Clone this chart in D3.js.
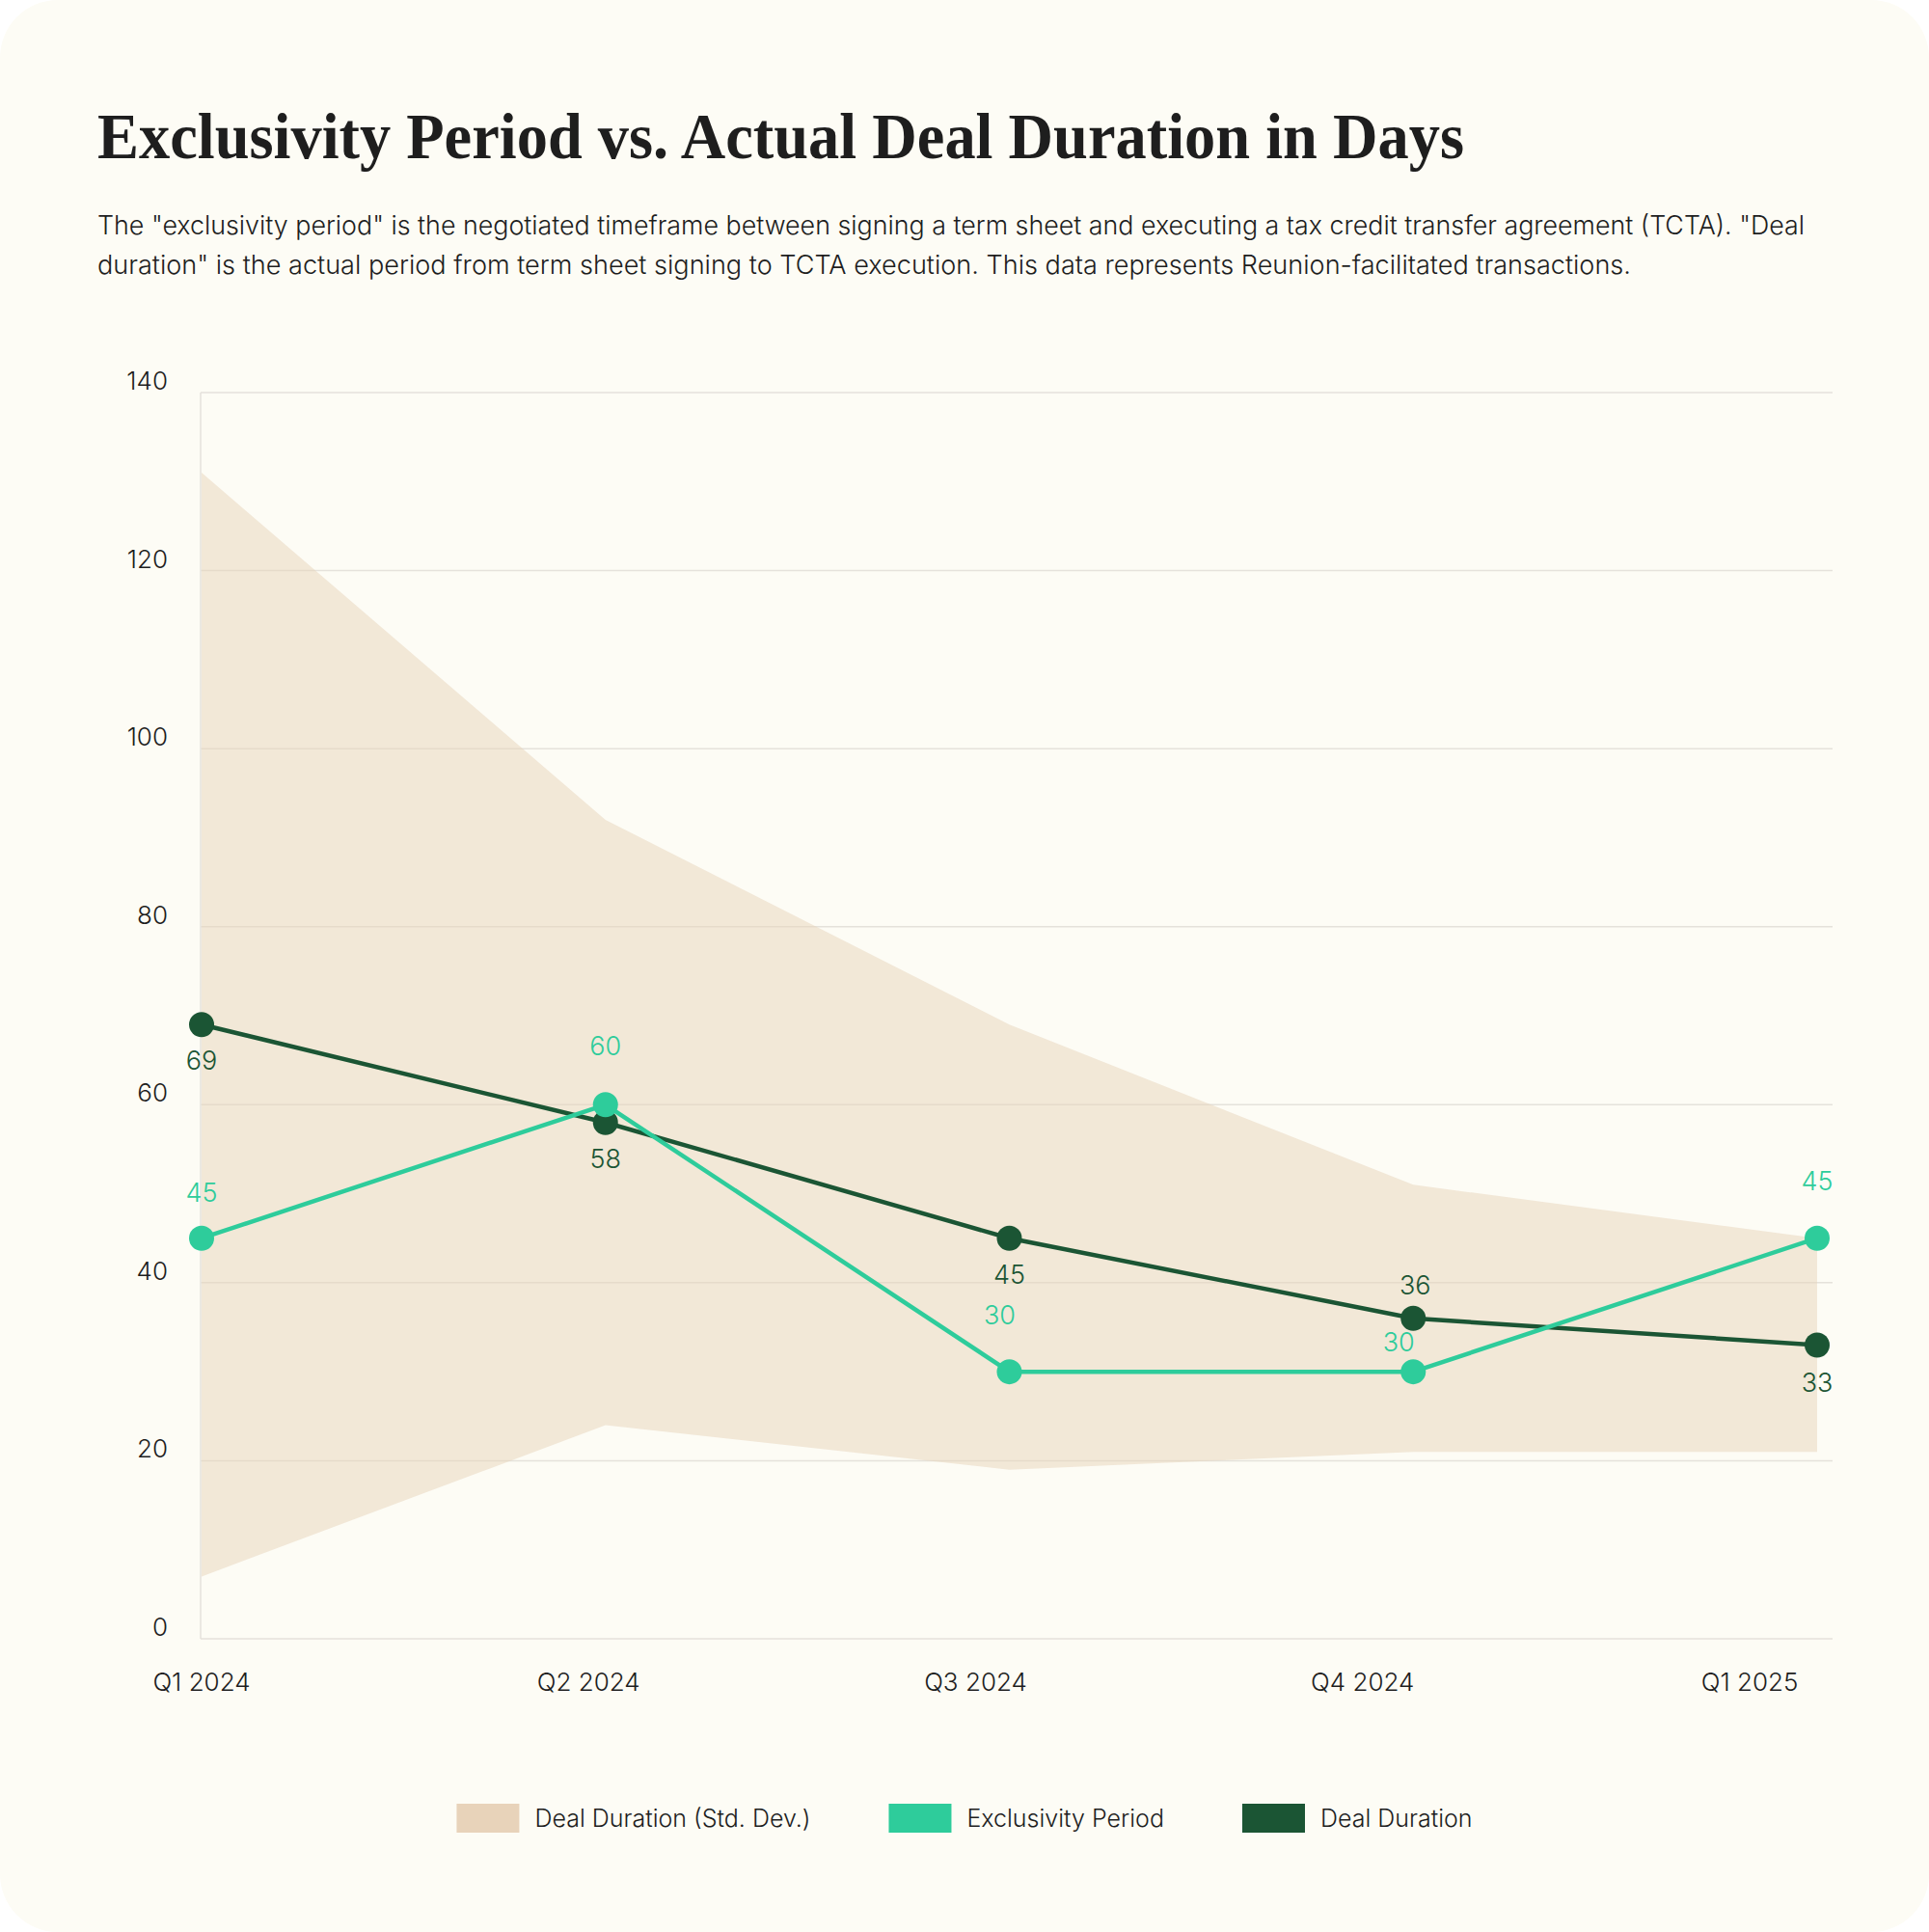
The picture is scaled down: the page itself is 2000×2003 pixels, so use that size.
<!DOCTYPE html>
<html>
<head>
<meta charset="utf-8">
<script src="https://cdn.jsdelivr.net/npm/d3@7/dist/d3.min.js"></script>
<style>
  html, body { margin: 0; padding: 0; background: #ffffff; }
  svg { display: block; }
</style>
</head>
<body>
<svg id="chart" width="2000" height="2003"></svg>
<script>
// ---- data ----
const quarters = ["Q1 2024", "Q2 2024", "Q3 2024", "Q4 2024", "Q1 2025"];
const exclusivityPeriod = [45, 60, 30, 30, 45];
const dealDuration = [69, 58, 45, 36, 33];
const stdDevUpper = [131, 92, 69, 51, 45];
const stdDevLower = [7, 24, 19, 21, 21];
const yTicks = [0, 20, 40, 60, 80, 100, 120, 140];
const legendLabels = ["Deal Duration (Std. Dev.)", "Exclusivity Period", "Deal Duration"];
const titleText = "Exclusivity Period vs. Actual Deal Duration in Days";
const subtitleLines = [
  "The \"exclusivity period\" is the negotiated timeframe between signing a term sheet and executing a tax credit transfer agreement (TCTA). \"Deal",
  "duration\" is the actual period from term sheet signing to TCTA execution. This data represents Reunion-facilitated transactions."
];

// ---- style ----
const C = {
  card: "#fdfcf5",
  text: "#1e1e1e",
  grid: "#e5e2db",
  band: "#e8d3ba",
  excl: "#2ecc9b",
  deal: "#1b5534"
};
const SANS = "Inter, 'Noto Sans', sans-serif";
const SERIF = "'Liberation Serif', 'DejaVu Serif', serif";
const W = 300;

const svg = d3.select("#chart");
svg.append("rect").attr("x", 0).attr("y", 0).attr("width", 2000).attr("height", 2003)
  .attr("rx", 60).attr("ry", 60).attr("fill", C.card);

// title & subtitle
svg.append("text").attr("x", 101).attr("y", 164)
  .attr("font-family", SERIF).attr("font-weight", 700).attr("font-size", 68)
  .attr("fill", C.text).attr("textLength", 1417).attr("lengthAdjust", "spacingAndGlyphs")
  .text(titleText);

const subLens = [1770, 1590];
subtitleLines.forEach((t, i) => {
  svg.append("text").attr("x", 101).attr("y", 243 + i * 41)
    .attr("font-family", SANS).attr("font-weight", W).attr("font-size", 27).attr("fill", C.text)
    .attr("textLength", subLens[i]).attr("lengthAdjust", "spacingAndGlyphs")
    .text(t);
});

// scales
const plotLeft = 208, plotRight = 1900;
const x = d3.scalePoint().domain(quarters).range([209, 1884]);
const xLabel = d3.scalePoint().domain(quarters).range([209, 1814]);
const y = d3.scaleLinear().domain([0, 140]).range([1699, 407]);

const g = svg.append("g");

// gridlines
g.append("g").selectAll("line").data(yTicks).join("line")
  .attr("x1", plotLeft).attr("x2", plotRight)
  .attr("y1", d => y(d)).attr("y2", d => y(d))
  .attr("stroke", C.grid).attr("stroke-width", 1.5);
// left axis line
g.append("line").attr("x1", plotLeft).attr("x2", plotLeft)
  .attr("y1", y(140)).attr("y2", y(0)).attr("stroke", C.grid).attr("stroke-width", 1.5);

// y tick labels
g.append("g").selectAll("text").data(yTicks).join("text")
  .attr("x", 174).attr("y", d => y(d) - 3)
  .attr("text-anchor", "end").attr("font-family", SANS).attr("font-weight", W).attr("font-size", 26)
  .attr("fill", C.text).text(d => d);

// x tick labels
g.append("g").selectAll("text").data(quarters).join("text")
  .attr("x", d => xLabel(d)).attr("y", 1753)
  .attr("text-anchor", "middle").attr("font-family", SANS).attr("font-weight", W).attr("font-size", 26)
  .attr("fill", C.text).text(d => d);

// std dev band
const bandData = quarters.map((q, i) => ({ q, hi: stdDevUpper[i], lo: stdDevLower[i] }));
g.append("path").datum(bandData)
  .attr("d", d3.area().x(d => x(d.q)).y0(d => y(d.lo)).y1(d => y(d.hi)))
  .attr("fill", C.band).attr("fill-opacity", 0.5);

// lines
function drawSeries(values, color, dy, dx) {
  const pts = quarters.map((q, i) => ({ q, v: values[i], i }));
  g.append("path").datum(pts)
    .attr("d", d3.line().x(d => x(d.q)).y(d => y(d.v)))
    .attr("fill", "none").attr("stroke", color).attr("stroke-width", 4.5)
    .attr("stroke-linejoin", "round");
  g.append("g").selectAll("circle").data(pts).join("circle")
    .attr("cx", d => x(d.q)).attr("cy", d => y(d.v)).attr("r", 13).attr("fill", color);
  g.append("g").selectAll("text").data(pts).join("text")
    .attr("x", d => x(d.q) + dx[d.i]).attr("y", d => y(d.v) + dy[d.i])
    .attr("text-anchor", "middle").attr("dominant-baseline", "central")
    .attr("font-family", SANS).attr("font-weight", W).attr("font-size", 27).attr("fill", color)
    .text(d => d.v);
}
drawSeries(dealDuration, C.deal, [37, 38, 38, -34, 39], [0, 0, 0, 2, 0]);
drawSeries(exclusivityPeriod, C.excl, [-47, -61, -59, -31, -59], [0, 0, -10, -15, 0]);

// legend
const legendColors = [C.band, C.excl, C.deal];
const lg = svg.append("g");
const items = legendLabels.map((t, i) => {
  const it = lg.append("g");
  it.append("rect").attr("x", 0).attr("y", -15).attr("width", 65).attr("height", 30)
    .attr("fill", legendColors[i]);
  const tx = it.append("text").attr("x", 81).attr("y", 9)
    .attr("font-family", SANS).attr("font-weight", W).attr("font-size", 25).attr("fill", C.text).text(t);
  return { it, w: 81 + tx.node().getComputedTextLength() };
});
const gap = 81;
const total = d3.sum(items, d => d.w) + gap * (items.length - 1);
let cx = 1000 - total / 2;
items.forEach(d => { d.it.attr("transform", `translate(${cx},1885)`); cx += d.w + gap; });
</script>
</body>
</html>
